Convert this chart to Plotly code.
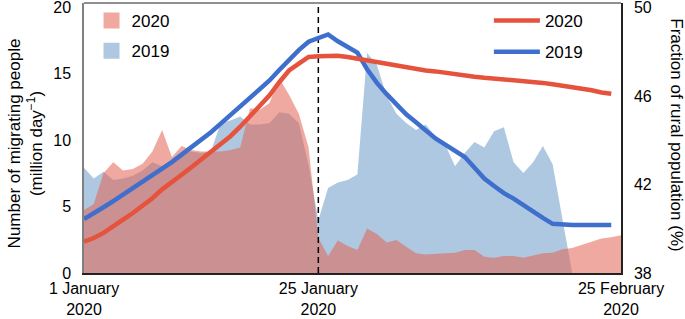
import pandas as pd
import plotly.graph_objects as go

# ---------------- data ----------------
start_date = "2020-01-01"
n_days = 56
lockdown_date = "2020-01-25"

# daily number of migrating people (million per day)
area_2020 = [4.74, 5.18, 7.51, 8.32, 7.71, 7.82, 8.22, 9.14, 10.76, 8.73,
             9.54, 9.24, 9.14, 9.14, 9.14, 9.24, 9.44, 12.38, 12.28, 12.79,
             14.62, 13.4, 11.98, 9.44, 2.64, 1.28, 2.44, 2.03, 1.73, 3.35,
             2.94, 2.3, 2.48, 1.98, 1.48, 1.4, 1.42, 1.48, 1.52, 1.73,
             1.73, 1.22, 1.15, 1.28, 1.28, 1.15, 1.32, 1.48, 1.52, 1.78,
             1.88, 2.1, 2.33, 2.59, 2.69, 2.84]
area_2019 = [7.92, 7.1, 7.61, 7.0, 7.1, 7.31, 7.71, 8.32, 8.02, 8.53,
             9.03, 9.14, 9.03, 9.14, 11.27, 11.47, 11.77, 11.17, 11.17, 11.27,
             12.08, 11.98, 11.27, 8.12, 3.96, 6.39, 6.8, 7.0, 7.41, 16.54,
             15.63, 13.3, 11.98, 11.27, 10.76, 11.17, 10.25, 9.64, 8.02, 9.03,
             9.85, 9.44, 10.66, 10.96, 8.32, 7.51, 8.32, 9.54, 8.17, 4.06,
             0, 0, 0, 0, 0, 0]

# fraction of rural population (%)
line_2020 = [39.42, 39.58, 39.81, 40.09, 40.41, 40.71, 41.03, 41.38, 41.78, 42.09,
             42.44, 42.78, 43.13, 43.51, 43.85, 44.18, 44.61, 45.07, 45.55, 46.03,
             46.62, 47.15, 47.46, 47.76, 47.79, 47.83, 47.82, 47.76, 47.68, 47.6,
             47.54, 47.44, 47.34, 47.28, 47.21, 47.15, 47.11, 47.04, 46.98, 46.92,
             46.87, 46.82, 46.79, 46.76, 46.73, 46.69, 46.64, 46.59, 46.53, 46.46,
             46.41, 46.36, 46.26, 46.16, 46.1]
line_2019 = [40.44, 40.68, 40.97, 41.25, 41.54, 41.82, 42.11, 42.4, 42.7, 43.01,
             43.35, 43.68, 43.99, 44.36, 44.75, 45.15, 45.52, 45.9, 46.3, 46.7,
             47.17, 47.65, 48.07, 48.45, 48.62, 48.78, 48.47, 48.23, 47.96, 47.2,
             46.59, 46.08, 45.63, 45.17, 44.81, 44.44, 44.08, 43.8, 43.54, 43.24,
             42.76, 42.27, 41.93, 41.61, 41.36, 41.05, 40.78, 40.49, 40.22, 40.17,
             40.17, 40.17, 40.17, 40.17, 40.17]

tick_dates = ["2020-01-01", "2020-01-25", "2020-02-25"]
tick_text = ["1 January<br>2020", "25 January<br>2020", "25 February<br>2020"]
left_ticks = [0, 5, 10, 15, 20]
right_ticks = [38, 42, 46, 50]

# ---------------- styles ----------------
FONT = "Liberation Sans, Arial, Helvetica, sans-serif"
FS = 17
TICK_FS = 16
RED_FILL = "rgba(228,99,82,0.55)"
BLUE_FILL = "rgb(174,200,225)"
RED_LINE = "#e5533d"
BLUE_LINE = "#3f6fcc"

dates = pd.date_range(start_date, periods=n_days, freq="D")

fig = go.Figure()

fig.add_trace(go.Scatter(x=dates, y=area_2019, mode="lines", fill="tozeroy",
                         fillcolor=BLUE_FILL, line=dict(width=0, color=BLUE_FILL),
                         showlegend=False, hoverinfo="skip"))
fig.add_trace(go.Scatter(x=dates, y=area_2020, mode="lines", fill="tozeroy",
                         fillcolor=RED_FILL, line=dict(width=0, color=RED_FILL),
                         showlegend=False, hoverinfo="skip"))

# vertical dashed marker at 25 January
fig.add_trace(go.Scatter(x=[lockdown_date, lockdown_date], y=[0, 20.3], mode="lines",
                         line=dict(color="black", width=1.5, dash="6px,4px"),
                         showlegend=False, hoverinfo="skip"))

fig.add_trace(go.Scatter(x=dates[:len(line_2019)], y=line_2019, mode="lines", yaxis="y2",
                         line=dict(color=BLUE_LINE, width=4.5), name="2019",
                         legend="legend2", legendrank=2, legendgroup="l19"))
fig.add_trace(go.Scatter(x=dates[:len(line_2020)], y=line_2020, mode="lines", yaxis="y2",
                         line=dict(color=RED_LINE, width=4.5), name="2020",
                         legend="legend2", legendrank=1, legendgroup="l20"))

# legend proxies for the shaded areas
fig.add_trace(go.Scatter(x=[None], y=[None], mode="markers", name="2020",
                         marker=dict(symbol="square", size=16, color=RED_FILL),
                         legend="legend", legendrank=1, legendgroup="a20"))
fig.add_trace(go.Scatter(x=[None], y=[None], mode="markers", name="2019",
                         marker=dict(symbol="square", size=16, color=BLUE_FILL),
                         legend="legend", legendrank=2, legendgroup="a19"))

fig.update_layout(
    width=685, height=319,
    margin=dict(l=84, r=64, t=3, b=46, autoexpand=False),
    paper_bgcolor="white", plot_bgcolor="white",
    font=dict(family=FONT, size=FS, color="black"),
    xaxis=dict(range=[dates[0], dates[-1]], tickvals=tick_dates, ticktext=tick_text,
               showgrid=False, zeroline=False, showline=True, linecolor="#222",
               linewidth=1.5, ticks="", tickfont=dict(size=TICK_FS), automargin=False,
               ticklabeloverflow="allow"),
    yaxis=dict(range=[0, 20.3], tickvals=left_ticks, showgrid=False, zeroline=False,
               showline=True, linecolor="#808080", linewidth=1.5, ticks="",
               ticklabelstandoff=8, tickfont=dict(size=TICK_FS), automargin=False,
               ticklabeloverflow="allow"),
    yaxis2=dict(range=[38, 50.2], tickvals=right_ticks, overlaying="y", side="right",
                showgrid=False, zeroline=False, showline=True, linecolor="#222",
                linewidth=1.5, ticks="", ticklabelstandoff=8, tickfont=dict(size=TICK_FS),
                automargin=False, ticklabeloverflow="allow"),
    legend=dict(x=0.014, y=1.0, xanchor="left", yanchor="top", bgcolor="rgba(0,0,0,0)",
                font=dict(size=FS), traceorder="grouped", tracegroupgap=5),
    legend2=dict(x=0.754, y=1.0, xanchor="left", yanchor="top", bgcolor="rgba(0,0,0,0)",
                 font=dict(size=FS), itemwidth=46, traceorder="grouped", tracegroupgap=6),
    shapes=[dict(type="line", xref="paper", yref="paper", x0=0, x1=1, y0=1, y1=1,
                 line=dict(color="#909090", width=2))],
    annotations=[
        dict(text="Number of migrating people<br>(million day<sup>−1</sup>)",
             xref="paper", yref="paper", x=(25 - 84) / 537, y=0.48,
             xanchor="center", yanchor="middle", textangle=-90, showarrow=False,
             font=dict(size=FS)),
        dict(text="Fraction of rural population (%)",
             xref="paper", yref="paper", x=(677 - 84) / 537, y=0.51,
             xanchor="center", yanchor="middle", textangle=90, showarrow=False,
             font=dict(size=FS)),
    ],
)

fig.write_html("out.html", config={"displayModeBar": False},
               post_script="document.body.style.margin='0';")
